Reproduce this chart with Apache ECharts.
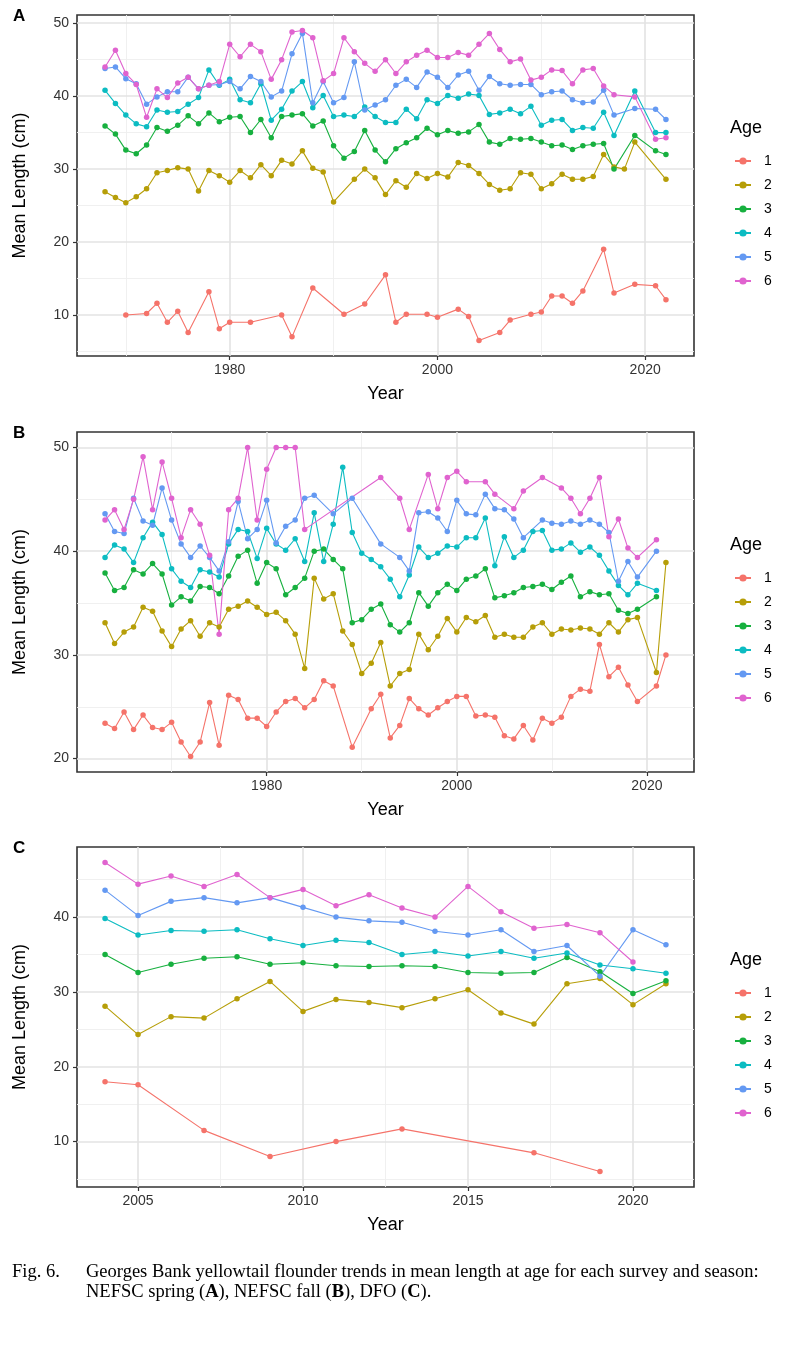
<!DOCTYPE html>
<html>
<head>
<meta charset="utf-8">
<script src="https://cdn.jsdelivr.net/npm/echarts@6/dist/echarts.min.js"></script>
<style>
html,body{margin:0;padding:0;background:#fff;}
#c{width:794px;height:1350px;}
</style>
</head>
<body>
<div id="c"></div>
<script>
// ---------- DATA ----------
const ages = ['1','2','3','4','5','6'];
const colors = ['#F5736A','#B69E08','#17B03F','#0CBCC2','#6499F2','#E063CF'];

// Panel A: NEFSC spring
const yearsA = [1968,1969,1970,1971,1972,1973,1974,1975,1976,1977,1978,1979,1980,1981,1982,1983,1984,1985,1986,1987,1988,1989,1990,1991,1992,1993,1994,1995,1996,1997,1998,1999,2000,2001,2002,2003,2004,2005,2006,2007,2008,2009,2010,2011,2012,2013,2014,2015,2016,2017,2018,2019,2021,2022];
const springAge1 = [null,null,10.0,null,10.2,11.6,9.0,10.5,7.6,null, 13.2,8.1,9.0,null,9.0,null,null,10.0,7.0,null, 13.7,null,null,10.1,null,11.5,null,15.5,9.0,10.1, null,10.1,9.7,null,10.8,9.8,6.5,null,7.6,9.3, null,10.1,10.4,12.6,12.6,11.6,13.3,null,19.0,13.0, null,14.2,14.0,12.1];
const springAge2 = [26.9,26.1,25.4,26.2,27.3,29.5,29.8,30.2,30.0,27.0, 29.8,29.1,28.2,29.8,28.8,30.6,29.1,31.2,30.7,32.5, 30.1,29.6,25.5,null,28.6,30.0,28.8,26.5,28.4,27.5, 29.4,28.7,29.4,28.9,30.9,30.5,29.4,27.9,27.1,27.3, 29.5,29.3,27.3,28.0,29.3,28.6,28.6,29.0,32.0,30.3, 30.0,33.7,null,28.6];
const springAge3 = [35.9,34.8,32.6,32.1,33.3,35.7,35.2,36.0,37.3,36.2, 37.7,36.5,37.1,37.2,35.0,36.8,34.3,37.2,37.4,37.6, 35.9,36.6,33.2,31.5,32.4,35.3,32.6,31.0,32.8,33.6, 34.3,35.6,34.7,35.3,34.9,35.1,36.1,33.7,33.4,34.2, 34.1,34.2,33.7,33.2,33.3,32.7,33.2,33.4,33.5,30.0, null,34.6,32.5,32.0];
const springAge4 = [40.8,39.0,37.4,36.2,35.8,38.1,37.8,37.9,38.9,39.8, 43.6,41.5,42.3,39.5,39.1,41.7,36.7,38.2,40.7,42.0, 38.4,40.1,37.2,37.4,37.2,38.5,37.2,36.4,36.4,38.2, 36.9,39.5,39.0,40.1,39.7,40.3,40.1,37.5,37.7,38.2, 37.6,38.6,36.0,36.7,36.8,35.3,35.7,35.6,37.8,34.6, null,40.7,35.0,35.0];
const springAge5 = [43.8,44.0,42.4,41.7,38.9,39.9,40.6,40.6,42.6,41.0, 41.5,41.6,42.0,41.0,42.7,42.0,39.9,40.7,45.8,48.6, 39.1,42.0,39.1,39.8,44.7,38.1,38.8,39.5,41.5,42.3, 41.2,43.3,42.6,41.2,42.9,43.4,40.8,42.7,41.7,41.5, 41.6,41.6,40.2,40.6,40.7,39.5,39.1,39.2,40.8,37.4, null,38.3,38.2,36.8];
const springAge6 = [44.0,46.3,43.1,41.6,37.1,41.0,39.8,41.8,42.6,41.0, 41.5,42.0,47.1,45.4,47.1,46.1,42.3,45.0,48.8,49.0, 48.0,42.1,43.1,48.0,46.1,44.5,43.4,45.0,43.1,44.7, 45.6,46.3,45.3,45.3,46.0,45.6,47.1,48.6,46.4,44.7, 45.1,42.2,42.6,43.6,43.5,41.7,43.6,43.8,41.4,40.2, null,39.9,34.1,34.3];

// Panel B: NEFSC fall
const yearsB = [1963,1964,1965,1966,1967,1968,1969,1970,1971,1972,1973,1974,1975,1976,1977,1978,1979,1980,1981,1982,1983,1984,1985,1986,1987,1988,1989,1990,1991,1992,1993,1994,1995,1996,1997,1998,1999,2000,2001,2002,2003,2004,2005,2006,2007,2008,2009,2010,2011,2012,2013,2014,2015,2016,2017,2018,2019,2021,2022];
const fallAge1 = [23.4,22.9,24.5,22.8,24.2,23.0,22.8,23.5,21.6,20.2, 21.6,25.4,21.3,26.1,25.7,23.9,23.9,23.1,24.5,25.5, 25.8,24.9,25.7,27.5,27.0,null,21.1,null,24.8,26.2, 22.0,23.2,25.8,24.8,24.2,24.9,25.5,26.0,26.0,24.1, 24.2,24.0,22.2,21.9,23.2,21.8,23.9,23.4,24.0,26.0, 26.7,26.5,31.0,27.9,28.8,27.1,25.5, 27.0,30.0];
const fallAge2 = [33.1,31.1,32.2,32.7,34.6,34.2,32.3,30.8,32.5,33.3, 31.8,33.1,32.7,34.4,34.7,35.2,34.6,33.9,34.1,33.3, 32.0,28.7,37.4,35.4,35.9,32.3,31.0,28.2,29.2,31.2, 27.0,28.2,28.6,32.0,30.5,31.8,33.5,32.2,33.6,33.2, 33.8,31.7,32.0,31.7,31.7,32.7,33.1,32.0,32.5,32.4, 32.6,32.5,32.0,33.1,32.2,33.4,33.6, 28.3,38.9];
const fallAge3 = [37.9,36.2,36.5,38.2,37.8,38.8,37.8,34.8,35.6,35.2, 36.6,36.5,35.9,37.6,39.5,40.1,36.9,38.9,38.3,35.8, 36.5,37.4,40.0,40.2,39.2,38.3,33.1,33.4,34.4,34.9, 32.9,32.2,33.1,36.0,34.7,36.0,36.8,36.2,37.3,37.6, 38.3,35.5,35.7,36.0,36.5,36.6,36.8,36.3,37.0,37.6, 35.6,36.1,35.8,35.9,34.3,34.0,34.4, 35.6,null];
const fallAge4 = [39.4,40.6,40.2,38.9,41.3,42.8,41.6,38.3,37.1,36.5, 38.2,38.0,37.5,40.7,42.1,41.9,39.3,42.2,40.7,40.1, 41.2,39.0,43.7,39.0,42.6,48.1,41.8,39.8,39.2,38.5, 37.3,35.6,37.7,40.4,39.4,39.8,40.5,40.4,41.3,41.3, 43.2,38.6,41.4,39.4,40.1,41.9,42.0,40.1,40.2,40.8, 39.9,40.4,39.6,38.1,36.7,35.8,36.9, 36.2,null];
const fallAge5 = [43.6,41.9,41.7,45.1,42.9,42.5,46.1,43.0,40.7,39.4, 40.5,39.4,38.1,40.9,44.8,41.2,42.1,44.9,40.8,42.4, 43.0,45.1,45.4,null,43.6,null,45.1,null,null,40.7, null,39.4,38.1,43.7,43.8,43.2,41.9,44.9,43.6,43.5, 45.5,44.1,44.0,43.1,41.3,null,43.0,42.7,42.6,42.9, 42.6,43.0,42.6,41.8,37.1,39.0,37.5, 40.0,null];
const fallAge6 = [43.0,44.0,42.1,45.0,49.1,44.0,48.6,45.1,41.3,44.0, 42.6,39.6,32.0,44.0,45.1,50.0,43.0,47.9,50.0,50.0, 50.0,42.1,null,null,null,null,null,null,null,47.1, null,45.1,42.1,null,47.4,44.1,47.1,47.7,46.7,null, 46.7,45.5,null,44.1,45.8,null,47.1,null,46.1,45.1, 43.6,45.1,47.1,41.4,43.1,40.3,39.4, 41.1,null];

// Panel C: DFO
const yearsC = [2004,2005,2006,2007,2008,2009,2010,2011,2012,2013,2014,2015,2016,2017,2018,2019,2020,2021];
const dfoAge1 = [18.0,17.6,null,11.5,null,8.0,null,10.0,null,11.7,null,null,null,8.5,null,6.0,null,null];
const dfoAge2 = [28.1,24.3,26.7,26.5,29.1,31.4,27.4,29.0,28.6,27.9,29.1,30.3,27.2,25.7,31.1,31.8,28.3,31.1];
const dfoAge3 = [35.0,32.6,33.7,34.5,34.7,33.7,33.9,33.5,33.4,33.5,33.4,32.6,32.5,32.6,34.6,32.7,29.8,31.5];
const dfoAge4 = [39.8,37.6,38.2,38.1,38.3,37.1,36.2,36.9,36.6,35.0,35.4,34.8,35.4,34.5,35.2,33.6,33.1,32.5];
const dfoAge5 = [43.6,40.2,42.1,42.6,41.9,42.6,41.3,40.0,39.5,39.3,38.1,37.6,38.3,35.4,36.2,32.1,38.3,36.3];
const dfoAge6 = [47.3,44.4,45.5,44.1,45.7,42.6,43.7,41.5,43.0,41.2,40.0,44.1,40.7,38.5,39.0,37.9,34.0,null];

// Tick labels / grid breaks
const xBreaksAB = [1980,2000,2020];
const xMinorAB = [1970,1990,2010];
const xBreaksC = [2005,2010,2015,2020];
const xMinorC = [2007.5,2012.5,2017.5];
const yBreaksA = [10,20,30,40,50];
const yMinorA = [5,15,25,35,45];
const yBreaksB = [20,30,40,50];
const yMinorB = [25,35,45];
const yBreaksC = [10,20,30,40];
const yMinorC = [5,15,25,35,45];

const panelLabels = ['A','B','C'];
const caption1 = 'Georges Bank yellowtail flounder trends in mean length at age for each survey and season:';

// ---------- LAYOUT ----------
const FONT = '"Liberation Sans", Arial, sans-serif';
const panels = [
  {years: yearsA, vals: [springAge1,springAge2,springAge3,springAge4,springAge5,springAge6], xb: xBreaksAB, xm: xMinorAB, yb: yBreaksA, ym: yMinorA},
  {years: yearsB, vals: [fallAge1,fallAge2,fallAge3,fallAge4,fallAge5,fallAge6], xb: xBreaksAB, xm: xMinorAB, yb: yBreaksB, ym: yMinorB},
  {years: yearsC, vals: [dfoAge1,dfoAge2,dfoAge3,dfoAge4,dfoAge5,dfoAge6], xb: xBreaksC, xm: xMinorC, yb: yBreaksC, ym: yMinorC}
];
const tops = [15, 432, 847];
const heights = [341, 340, 340];
const GL = 77, GW = 617;

function expand(lo, hi){ const d = (hi - lo) * 0.05; return [lo - d, hi + d]; }

const grid = [], xAxis = [], yAxis = [], series = [], legend = [], graphic = [];

panels.forEach((p, pi) => {
  grid.push({left: GL, top: tops[pi], width: GW, height: heights[pi], show: true,
    borderColor: '#333', borderWidth: 1.6, backgroundColor: 'transparent'});
  let ylo = Infinity, yhi = -Infinity;
  p.vals.forEach(a => a.forEach(v => { if (v != null) { ylo = Math.min(ylo, v); yhi = Math.max(yhi, v); } }));
  const xr = expand(Math.min(...p.years), Math.max(...p.years));
  const yr = expand(ylo, yhi);
  const major = {color: '#E3E3E3', width: 1.6};
  const minor = {color: '#EEEEEE', width: 0.9};
  xAxis.push({type: 'value', gridIndex: pi, min: xr[0], max: xr[1], position: 'bottom',
    axisLine: {show: false},
    axisTick: {show: true, length: 4, customValues: p.xb, lineStyle: {color: '#333', width: 1.2}},
    axisLabel: {customValues: p.xb, formatter: v => String(v), fontSize: 14, color: '#333', fontFamily: FONT, margin: 7},
    splitLine: {show: true, lineStyle: major},
    name: 'Year', nameLocation: 'middle', nameGap: 29,
    nameTextStyle: {fontSize: 18, color: '#000', fontFamily: FONT}, z: 3});
  xAxis.push({type: 'value', gridIndex: pi, min: xr[0], max: xr[1], position: 'top',
    axisLine: {show: false}, axisTick: {show: false, customValues: p.xm},
    axisLabel: {show: false, customValues: p.xm},
    splitLine: {show: true, lineStyle: minor}});
  yAxis.push({type: 'value', gridIndex: pi, min: yr[0], max: yr[1], position: 'left',
    axisLine: {show: false},
    axisTick: {show: true, length: 4, customValues: p.yb, lineStyle: {color: '#333', width: 1.2}},
    axisLabel: {customValues: p.yb, formatter: v => String(v), fontSize: 14, color: '#333', fontFamily: FONT, margin: 8},
    splitLine: {show: true, lineStyle: major},
    name: 'Mean Length (cm)', nameLocation: 'middle', nameGap: 48, nameRotate: 90,
    nameTextStyle: {fontSize: 18, color: '#000', fontFamily: FONT}, z: 3});
  yAxis.push({type: 'value', gridIndex: pi, min: yr[0], max: yr[1], position: 'right',
    axisLine: {show: false}, axisTick: {show: false, customValues: p.ym},
    axisLabel: {show: false, customValues: p.ym},
    splitLine: {show: true, lineStyle: minor}});

  p.vals.forEach((arr, ai) => {
    series.push({
      name: ages[ai], type: 'line', xAxisIndex: pi * 2, yAxisIndex: pi * 2,
      data: p.years.map((y, i) => [y, arr[i]]).filter(d => d[1] != null),
      symbol: 'circle', symbolSize: 5.5, showAllSymbol: true,
      lineStyle: {width: 1.1, color: colors[ai]}, itemStyle: {color: colors[ai]},
      z: 5, animation: false, silent: true
    });
  });

  const off = tops[pi] - tops[0];
  legend.push({data: ages, orient: 'vertical', left: 729, top: 149 + off,
    itemWidth: 16, itemHeight: 9, itemGap: 10, selectedMode: false,
    textStyle: {fontSize: 14, color: '#000', fontFamily: FONT, padding: [0, 0, 0, 8]}});
  graphic.push({type: 'text', left: 730, top: 119 + off,
    style: {text: 'Age', fontSize: 18, fill: '#000', fontFamily: FONT}});
  graphic.push({type: 'text', left: 13, top: 8 + off,
    style: {text: panelLabels[pi], fontSize: 17, fontWeight: 'bold', fill: '#000', fontFamily: FONT}});
});

const SERIF = '"Liberation Serif", "Times New Roman", serif';
graphic.push({type: 'text', left: 12, top: 1263,
  style: {text: 'Fig. 6.', fontSize: 18.5, fill: '#000', fontFamily: SERIF}});
graphic.push({type: 'text', left: 86, top: 1263,
  style: {text: caption1, fontSize: 18.5, fill: '#000', fontFamily: SERIF}});
graphic.push({type: 'text', left: 86, top: 1283,
  style: {text: '{n|NEFSC spring (}{b|A}{n|), NEFSC fall (}{b|B}{n|), DFO (}{b|C}{n|).}',
    rich: {n: {fontSize: 18.5, fontFamily: SERIF, fill: '#000'}, b: {fontSize: 18.5, fontFamily: SERIF, fontWeight: 'bold', fill: '#000'}}}});

const chart = echarts.init(document.getElementById('c'), null, {renderer: 'canvas'});
chart.setOption({backgroundColor: '#fff', animation: false, grid, xAxis, yAxis, series, legend, graphic});
</script>
</body>
</html>
